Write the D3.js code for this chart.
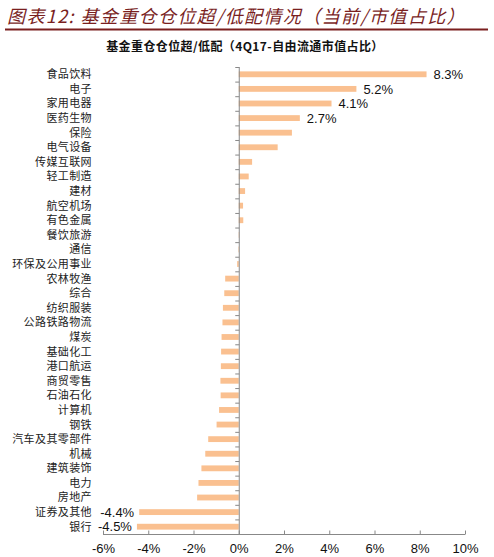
<!DOCTYPE html>
<html lang="zh">
<head>
<meta charset="UTF-8">
<title>基金重仓仓位超/低配情况</title>
<style>
  body { margin: 0; background: #fff; }
</style>
</head>
<body>
<script src="https://cdn.jsdelivr.net/npm/d3@7/dist/d3.min.js"></script>
<script>
    // industries, top to bottom
    const categories = ["食品饮料", "电子", "家用电器", "医药生物", "保险", "电气设备", "传媒互联网", "轻工制造",
        "建材", "航空机场", "有色金属", "餐饮旅游", "通信", "环保及公用事业", "农林牧渔", "综合", "纺织服装",
        "公路铁路物流", "煤炭", "基础化工", "港口航运", "商贸零售", "石油石化", "计算机", "钢铁",
        "汽车及其零部件", "机械", "建筑装饰", "电力", "房地产", "证券及其他", "银行"];
    // over/under weight, % of free float market cap
    const values = [8.3, 5.2, 4.1, 2.7, 2.35, 1.72, 0.59, 0.44,
        0.28, 0.19, 0.2, 0.02, -0.02, -0.07, -0.6, -0.64, -0.7,
        -0.72, -0.76, -0.78, -0.79, -0.81, -0.8, -0.87, -0.98,
        -1.35, -1.48, -1.65, -1.78, -1.84, -4.4, -4.5];
    // only these bars carry a value label
    const labelled = ["食品饮料", "电子", "家用电器", "医药生物", "证券及其他", "银行"];
    const xTicks = [-6, -4, -2, 0, 2, 4, 6, 8, 10];

    const data = categories.map((c, i) => ({name: c, value: values[i]}));

    const W = 494, H = 557;
    const svg = d3.select("body").append("svg")
        .attr("width", W)
        .attr("height", H);

    // header
    svg.append("text")
        .attr("x", 7)
        .attr("y", 23)
        .attr("fill", "#7a1f1f")
        .style("font-family", "'Noto Sans CJK SC', sans-serif")
        .style("font-style", "italic")
        .style("font-size", "18px")
        .style("letter-spacing", "1.4px")
        .text("图表12: 基金重仓仓位超/低配情况（当前/市值占比）");
    svg.append("line")
        .attr("x1", 5).attr("x2", 488)
        .attr("y1", 29.5).attr("y2", 29.5)
        .attr("stroke", "#7a1f1f")
        .attr("stroke-width", 2);
    svg.append("text")
        .attr("x", 245)
        .attr("y", 51)
        .attr("text-anchor", "middle")
        .attr("fill", "#111")
        .style("font-family", "'Noto Sans CJK SC', sans-serif")
        .style("font-size", "12px")
        .style("font-weight", "bold")
        .style("letter-spacing", "0.4px")
        .text("基金重仓仓位超/低配（4Q17-自由流通市值占比）");

    // scales
    var xScale = d3.scaleLinear().domain([-6, 10]).range([103, 465]);
    var yScale = d3.scaleBand().domain(categories).range([67, 534]).paddingInner(0.6).paddingOuter(0.3);
    const step = yScale.step();
    const y0 = 67, y1 = 534;

    // bars
    svg.append("g")
        .selectAll("rect")
        .data(data)
        .join("rect")
            .attr("x", d => xScale(Math.min(0, d.value)))
            .attr("y", d => yScale(d.name))
            .attr("width", d => Math.abs(xScale(d.value) - xScale(0)))
            .attr("height", yScale.bandwidth())
            .attr("fill", "#fac090");

    // vertical axis at zero, ticks between categories
    const axisColor = "#888";
    const yAxis = svg.append("g");
    yAxis.append("line")
        .attr("x1", xScale(0) + 0.5).attr("x2", xScale(0) + 0.5)
        .attr("y1", y0).attr("y2", y1)
        .attr("stroke", axisColor);
    yAxis.selectAll("line.tick")
        .data(d3.range(categories.length + 1))
        .join("line")
            .attr("class", "tick")
            .attr("x1", xScale(0) - 3.5).attr("x2", xScale(0) + 0.5)
            .attr("y1", i => y0 + i * step + 0.5)
            .attr("y2", i => y0 + i * step + 0.5)
            .attr("stroke", axisColor);

    // category labels
    svg.append("g")
        .selectAll("text")
        .data(data)
        .join("text")
            .attr("x", 92)
            .attr("y", d => yScale(d.name) + yScale.bandwidth() / 2)
            .attr("dy", "0.36em")
            .attr("text-anchor", "end")
            .attr("fill", "#222")
            .style("font-family", "'Noto Sans CJK SC', sans-serif")
            .style("font-size", "11px")
            .style("letter-spacing", "0.4px")
            .text(d => d.name);

    // horizontal axis
    const xAxis = d3.axisBottom(xScale)
        .tickValues(xTicks)
        .tickSize(-4)
        .tickFormat(d => d + "%");
    const gx = svg.append("g")
        .attr("transform", `translate(0,${y1 + 0.5})`)
        .call(xAxis);
    gx.select(".domain").attr("stroke", axisColor).attr("d", `M${xScale(-6)},0H${xScale(10)}`);
    gx.selectAll(".tick line").attr("stroke", axisColor);
    gx.selectAll(".tick text")
        .attr("y", 9)
        .attr("fill", "#111")
        .style("font-family", "'Liberation Sans', Arial, sans-serif")
        .style("font-size", "13px");

    // value labels
    svg.append("g")
        .selectAll("text")
        .data(data.filter(d => labelled.includes(d.name)))
        .join("text")
            .attr("x", d => d.value >= 0 ? xScale(d.value) + 7 : xScale(d.value) - 5)
            .attr("y", d => yScale(d.name) + yScale.bandwidth() / 2)
            .attr("dy", "0.36em")
            .attr("text-anchor", d => d.value >= 0 ? "start" : "end")
            .attr("fill", "#111")
            .style("font-family", "'Liberation Sans', Arial, sans-serif")
            .style("font-size", "13px")
            .text(d => d.value.toFixed(1) + "%");
</script>
</body>
</html>
